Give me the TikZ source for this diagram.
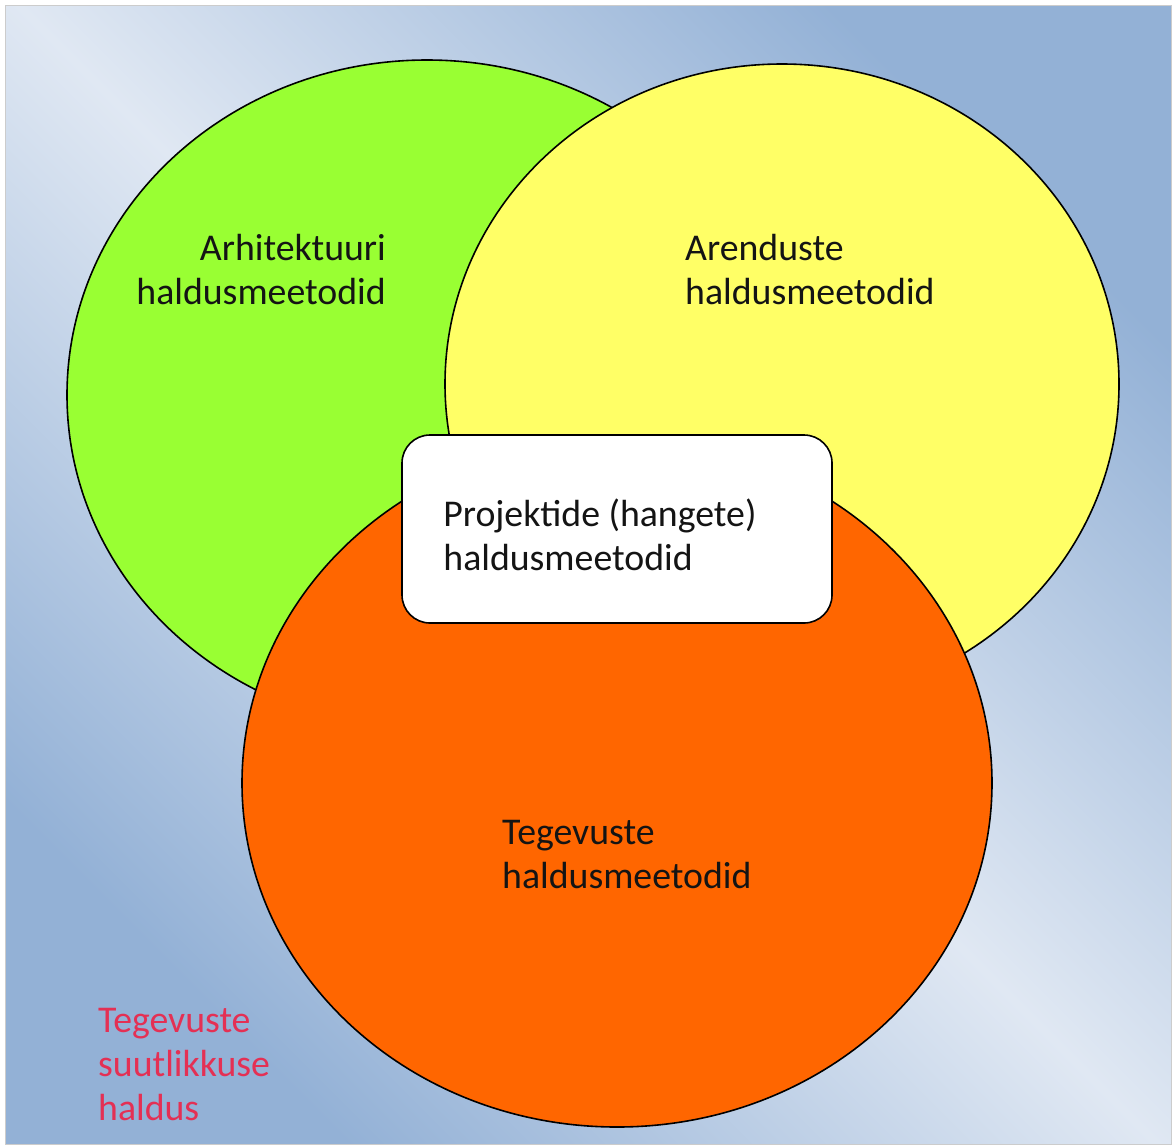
\documentclass[tikz,border=0pt]{standalone}
\usepackage{fontspec}
\setmainfont{Carlito}
\usetikzlibrary{positioning, calc}

\definecolor{bgblue}{RGB}{147,177,214}
\definecolor{bglight}{RGB}{224,232,243}
\definecolor{setgreen}{RGB}{153,255,51}
\definecolor{setyellow}{RGB}{255,255,102}
\definecolor{setorange}{RGB}{255,102,0}
\definecolor{lblred}{RGB}{228,48,84}
\definecolor{lbldark}{RGB}{20,20,20}

\begin{document}
\begin{tikzpicture}[
    x=1pt, y=-1pt,
    setshape/.style={draw=black, line width=1.6pt},
    lbl/.style={inner sep=0pt, text=lbldark,
                font=\fontsize{37.8}{44}\selectfont}
  ]
  \useasboundingbox (0,0) rectangle (1174,1144);
  \fill[white] (0,0) rectangle (1174,1144);
  \draw[draw=gray!40, line width=1pt, top color=bgblue, bottom color=bgblue,
        middle color=bglight, shading angle=-45] (5,5) rectangle (1171,1144);

  \draw[setshape, fill=setgreen] (427,395) ellipse [x radius=360, y radius=335];
  \draw[setshape, fill=setyellow] (782,384) ellipse [x radius=337, y radius=320];
  \draw[setshape, fill=setorange] (617,783) ellipse [x radius=375, y radius=344];

  \node[draw, line width=1.6pt, fill=white, rounded corners=28pt,
        minimum width=430pt, minimum height=188pt] (projbox) at (617,529) {};

  \node[lbl, align=right, anchor=north east] (archlbl) at (386,234)
    {Arhitektuuri\\haldusmeetodid};
  \node[lbl, align=left, anchor=north west] (devlbl) at (685,234)
    {Arenduste\\haldusmeetodid};
  \node[lbl, align=left, anchor=north west] (projlbl)
    at ($(projbox.north west)+(42,64)$) {Projektide (hangete)\\haldusmeetodid};
  \node[lbl, align=left, anchor=north west] (oplbl) at (502,820)
    {Tegevuste\\haldusmeetodid};

  \node[lbl, text=lblred, align=left, anchor=north west] (capalbl) at (98,1008)
    {Tegevuste\\suutlikkuse\\haldus};
\end{tikzpicture}
\end{document}
